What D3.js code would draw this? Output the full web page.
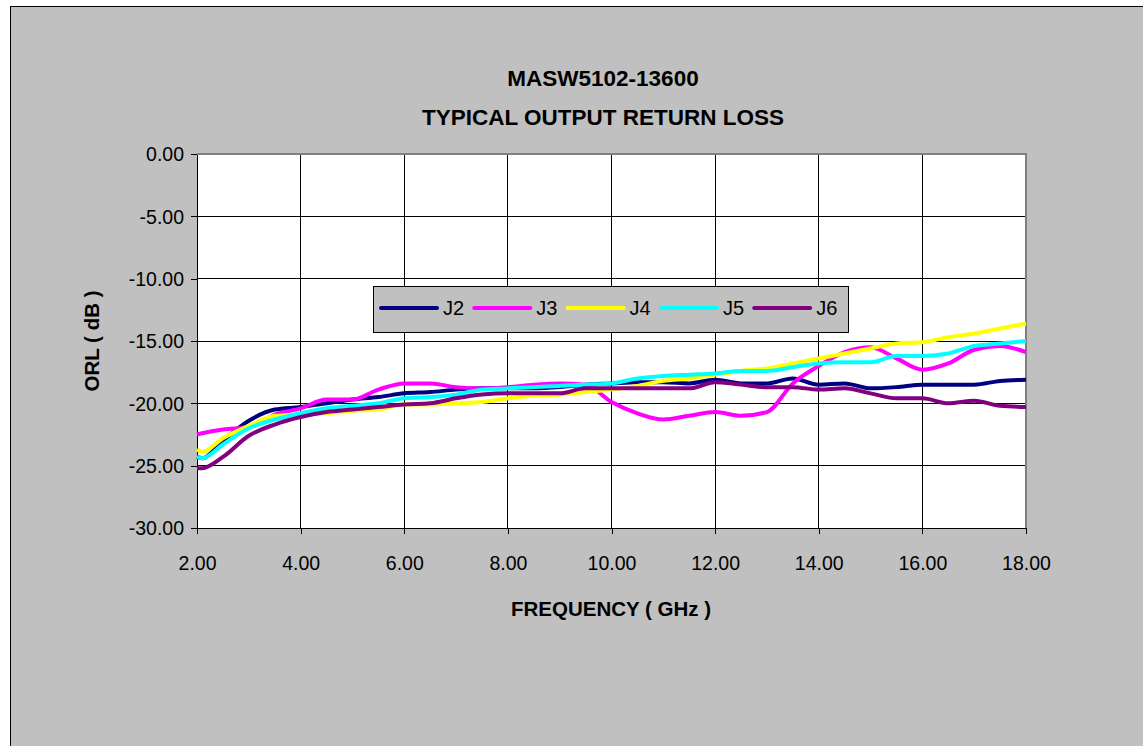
<!DOCTYPE html>
<html>
<head>
<meta charset="utf-8">
<script src="https://d3js.org/d3.v7.min.js"></script>
<style>
  body { margin: 0; background: #fff; }
  text { font-family: "Liberation Sans", Arial, sans-serif; }
</style>
</head>
<body>
<svg id="chart" width="1143" height="746"></svg>
<script>
// frequency points (GHz)
var freq = [2.0, 2.1, 2.5, 3.0, 3.5, 4.0, 4.5, 5.0, 5.5, 6.0, 6.5, 7.0, 7.5, 8.0, 8.5, 9.0, 9.5,
            10.0, 10.5, 11.0, 11.5, 12.0, 12.5, 13.0, 13.5, 14.0, 14.5, 15.0, 15.5, 16.0, 16.5, 17.0, 17.5, 18.0];

var j2 = [-24.3, -24.4, -23.0, -21.4, -20.5, -20.3, -20.0, -19.7, -19.5, -19.2, -19.1, -18.9, -18.8, -18.8, -18.8, -18.7, -18.5,
          -18.4, -18.3, -18.3, -18.4, -18.1, -18.4, -18.4, -18.0, -18.5, -18.4, -18.8, -18.7, -18.5, -18.5, -18.5, -18.2, -18.1];
var j3 = [-22.5, -22.4, -22.1, -21.9, -20.9, -20.4, -19.7, -19.7, -18.9, -18.4, -18.4, -18.7, -18.8, -18.7, -18.5, -18.4, -18.5,
          -19.9, -20.8, -21.3, -21.0, -20.7, -21.0, -20.7, -18.4, -17.0, -15.9, -15.5, -16.4, -17.3, -16.8, -15.7, -15.4, -15.9];
var j4 = [-23.7, -23.9, -22.8, -21.8, -21.0, -20.9, -20.8, -20.6, -20.5, -20.1, -20.1, -20.0, -19.9, -19.6, -19.4, -19.3, -19.1,
          -18.9, -18.6, -18.2, -18.0, -17.7, -17.4, -17.2, -16.8, -16.4, -16.0, -15.6, -15.2, -15.1, -14.7, -14.4, -14.0, -13.6];
var j5 = [-24.3, -24.4, -23.3, -22.0, -21.3, -20.8, -20.4, -20.2, -20.0, -19.6, -19.5, -19.3, -18.9, -18.8, -18.7, -18.6, -18.5,
          -18.4, -18.0, -17.8, -17.7, -17.6, -17.4, -17.4, -17.1, -16.8, -16.7, -16.7, -16.2, -16.2, -16.0, -15.4, -15.2, -15.0];
var j6 = [-25.2, -25.2, -24.3, -22.6, -21.7, -21.1, -20.7, -20.5, -20.3, -20.1, -20.0, -19.6, -19.3, -19.2, -19.2, -19.2, -18.8,
          -18.8, -18.8, -18.8, -18.8, -18.3, -18.5, -18.7, -18.7, -18.9, -18.8, -19.2, -19.6, -19.6, -20.0, -19.8, -20.2, -20.3];

var seriesNames = ["J2", "J3", "J4", "J5", "J6"];
var seriesColors = ["#000080", "#ff00ff", "#ffff00", "#00ffff", "#800080"];
var seriesValues = [j2, j3, j4, j5, j6];

var xTicks = [2, 4, 6, 8, 10, 12, 14, 16, 18];
var yTicks = [0, -5, -10, -15, -20, -25, -30];

var titleLines = ["MASW5102-13600", "TYPICAL OUTPUT RETURN LOSS"];
var xTitle = "FREQUENCY ( GHz )";
var yTitle = "ORL ( dB )";

var svg = d3.select("#chart");

// chart area background + border (runs off the right / bottom edge like the original)
svg.append("rect")
  .attr("x", 10.5).attr("y", 6.5)
  .attr("width", 1200).attr("height", 800)
  .attr("fill", "#c0c0c0").attr("stroke", "#000").attr("stroke-width", 1);

var plot = { left: 197, top: 154, right: 1026, bottom: 528 };

var x = d3.scaleLinear().domain([2, 18]).range([plot.left, plot.right]);
var y = d3.scaleLinear().domain([-30, 0]).range([plot.bottom, plot.top]);

svg.append("rect")
  .attr("x", plot.left).attr("y", plot.top)
  .attr("width", plot.right - plot.left).attr("height", plot.bottom - plot.top)
  .attr("fill", "#fff");

// gridlines
var grid = svg.append("g").attr("stroke", "#000").attr("stroke-width", 1).attr("shape-rendering", "crispEdges");
grid.selectAll(".gx").data(xTicks.slice(1, -1)).enter().append("line")
  .attr("x1", function(d) { return x(d); }).attr("x2", function(d) { return x(d); })
  .attr("y1", plot.top).attr("y2", plot.bottom);
grid.selectAll(".gy").data(yTicks.slice(1, -1)).enter().append("line")
  .attr("x1", plot.left).attr("x2", plot.right)
  .attr("y1", function(d) { return y(d); }).attr("y2", function(d) { return y(d); });

// plot border top/right in gray
svg.append("path")
  .attr("d", "M" + plot.left + "," + plot.top + "H" + plot.right + "V" + plot.bottom)
  .attr("fill", "none").attr("stroke", "#808080").attr("stroke-width", 2);

// axes
var yAxis = d3.axisLeft(y).tickValues(yTicks).tickSize(6).tickSizeOuter(0)
  .tickFormat(function(d) { return d.toFixed(2); });
var xAxis = d3.axisBottom(x).tickValues(xTicks).tickSize(6).tickSizeOuter(0)
  .tickFormat(function(d) { return d.toFixed(2); });

var gy = svg.append("g").attr("transform", "translate(" + plot.left + ",0)").call(yAxis);
var gx = svg.append("g").attr("transform", "translate(0," + plot.bottom + ")").call(xAxis);

[gx, gy].forEach(function(g) {
  g.selectAll("path, line").attr("stroke", "#000").attr("shape-rendering", "crispEdges");
  g.selectAll("text").attr("fill", "#000").style("font-size", "19.5px")
    .style("font-family", "'Liberation Sans', Arial, sans-serif");
});
gy.selectAll("text").attr("x", -13).attr("dy", "0.35em");
gx.selectAll("text").attr("y", 35).attr("dy", "0.35em");

// lines
var line = d3.line()
  .x(function(d, i) { return x(freq[i]); })
  .y(function(d) { return y(d); })
  .curve(d3.curveMonotoneX);

svg.append("g").selectAll("path").data(seriesValues).enter().append("path")
  .attr("d", function(d) { return line(d); })
  .attr("fill", "none")
  .attr("stroke", function(d, i) { return seriesColors[i]; })
  .attr("stroke-width", 4)
  .attr("stroke-linejoin", "round");

// titles
svg.selectAll(".title").data(titleLines).enter().append("text")
  .attr("x", 603).attr("y", function(d, i) { return 86 + i * 39; })
  .attr("text-anchor", "middle")
  .style("font-size", "22.5px").style("font-weight", "bold")
  .text(function(d) { return d; });

svg.append("text")
  .attr("x", 611).attr("y", 616)
  .attr("text-anchor", "middle")
  .style("font-size", "20.5px").style("font-weight", "bold")
  .text(xTitle);

svg.append("text")
  .attr("transform", "translate(99,341) rotate(-90)")
  .attr("text-anchor", "middle")
  .style("font-size", "20.5px").style("font-weight", "bold")
  .text(yTitle);

// legend
var legend = svg.append("g").attr("transform", "translate(373,286)");
legend.append("rect")
  .attr("x", 0.5).attr("y", 0.5).attr("width", 475).attr("height", 46)
  .attr("fill", "#c0c0c0").attr("stroke", "#000").attr("stroke-width", 1);

var items = legend.selectAll(".item").data(seriesNames).enter().append("g")
  .attr("transform", function(d, i) { return "translate(" + (8 + i * 93.3) + ",22)"; });
items.append("line")
  .attr("x1", 0).attr("x2", 56).attr("y1", 0).attr("y2", 0)
  .attr("stroke", function(d, i) { return seriesColors[i]; })
  .attr("stroke-width", 4).attr("stroke-linecap", "round");
items.append("text")
  .attr("x", 62).attr("y", 0).attr("dy", "0.35em")
  .style("font-size", "20px")
  .text(function(d) { return d; });
</script>
</body>
</html>
